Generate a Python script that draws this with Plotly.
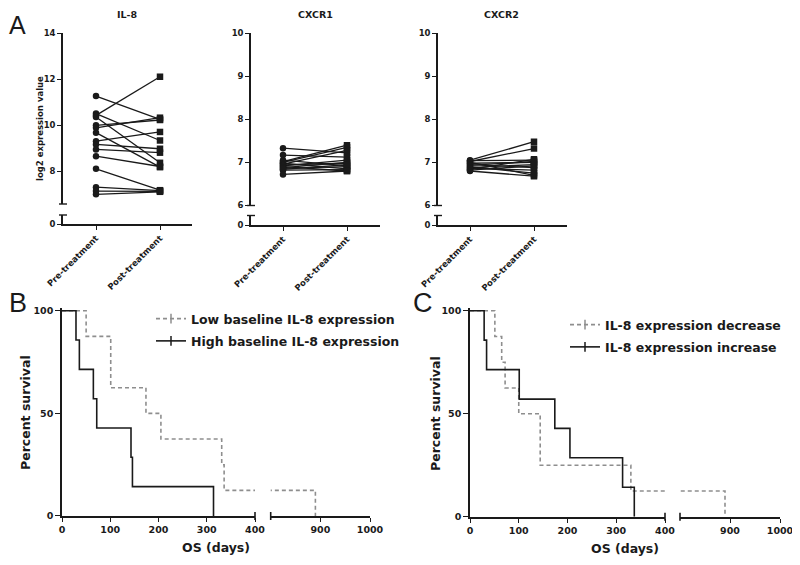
import plotly.graph_objects as go

# The page body keeps the browser's default 8px margin, so the figure is laid out
# in an 784x549 box that starts 8px from the window's top-left corner.
OFF = 8
W, H = 800 - 2 * OFF, 565 - 2 * OFF
def X(px): return (px - OFF) / W
def Y(py): return 1 - (py - OFF) / H

FONT = "DejaVu Sans"
BLACK = "#1a1a1a"
GRAY = "#8e8e8e"

# ---------------- Panel A data ----------------
groups = ["Pre-treatment", "Post-treatment"]
il8_pre  = [11.26, 10.50, 10.42, 10.35, 9.99, 9.88, 9.67, 9.30, 9.16, 8.94, 8.65, 8.10, 7.30, 7.13, 6.99]
il8_post = [10.25, 9.33, 12.10, 8.36, 10.22, 10.32, 8.17, 9.70, 8.97, 8.80, 8.20, 7.17, 7.15, 7.12, 7.10]
cxcr1_pre  = [7.33, 7.17, 7.05, 7.02, 7.00, 6.98, 6.96, 6.94, 6.92, 6.90, 6.88, 6.86, 6.84, 6.82, 6.72]
cxcr1_post = [7.22, 7.12, 6.92, 7.40, 7.35, 6.85, 7.28, 6.98, 7.05, 6.80, 7.00, 6.90, 6.95, 6.83, 6.80]
cxcr2_pre  = [7.05, 7.02, 7.04, 7.00, 6.98, 6.95, 6.93, 6.90, 6.88, 6.86, 6.84, 6.82, 6.80]
cxcr2_post = [7.48, 7.32, 7.05, 6.70, 7.00, 6.88, 7.02, 6.75, 6.95, 6.82, 7.07, 6.92, 6.68]

# ---------------- Panel B/C data (Kaplan-Meier steps) ----------------
b_low_t  = [0, 50, 101, 174, 205, 331, 336, 890]
b_low_s  = [100, 87.5, 62.5, 50, 37.5, 25, 12.5, 0]
b_high_t = [0, 29, 36, 65, 72, 143, 146, 314]
b_high_s = [100, 85.7, 71.4, 57.1, 42.9, 28.6, 14.3, 0]
c_dec_t  = [0, 51, 65, 72, 100, 144, 330, 890]
c_dec_s  = [100, 87.5, 75, 62.5, 50, 25, 12.5, 0]
c_inc_t  = [0, 29, 34, 101, 174, 205, 313, 337]
c_inc_s  = [100, 85.7, 71.4, 57.1, 42.9, 28.6, 14.3, 0]

fig = go.Figure()

def tf(size):
    return dict(family=FONT, size=size, color=BLACK, weight="bold")

# ---------- Panel A traces ----------
panels_a = [
    ("x", "y", "y2", il8_pre, il8_post),
    ("x2", "y3", "y4", cxcr1_pre, cxcr1_post),
    ("x3", "y5", "y6", cxcr2_pre, cxcr2_post),
]
for xa, ya, yl, pre, post in panels_a:
    lx, ly = [], []
    for a, b in zip(pre, post):
        lx += [0, 1, None]
        ly += [a, b, None]
    fig.add_trace(go.Scatter(x=lx, y=ly, mode="lines", xaxis=xa, yaxis=ya,
                             line=dict(color=BLACK, width=1.3), showlegend=False))
    fig.add_trace(go.Scatter(x=[0] * len(pre), y=pre, mode="markers", xaxis=xa, yaxis=ya,
                             marker=dict(symbol="circle", size=6.5, color=BLACK), showlegend=False))
    fig.add_trace(go.Scatter(x=[1] * len(post), y=post, mode="markers", xaxis=xa, yaxis=ya,
                             marker=dict(symbol="square", size=6.5, color=BLACK), showlegend=False))
    # empty trace so the broken lower axis segment (holding the 0 tick) is drawn
    fig.add_trace(go.Scatter(x=[None], y=[None], mode="markers", xaxis=xa, yaxis=yl,
                             showlegend=False, hoverinfo="skip"))

# ---------- Panel B/C traces ----------
km = [
    (b_low_t, b_low_s, GRAY, "dash", "Low baseline IL-8 expression", ("x4", "x5"), "y7", "legend"),
    (b_high_t, b_high_s, BLACK, "solid", "High baseline IL-8 expression", ("x4", "x5"), "y7", "legend"),
    (c_dec_t, c_dec_s, GRAY, "dash", "IL-8 expression decrease", ("x6", "x7"), "y8", "legend2"),
    (c_inc_t, c_inc_s, BLACK, "solid", "IL-8 expression increase", ("x6", "x7"), "y8", "legend2"),
]
for t, s, col, dash, name, xas, ya, leg in km:
    d = "4px,3px" if dash == "dash" else "solid"
    for xa in xas:
        fig.add_trace(go.Scatter(x=t, y=s, mode="lines", line_shape="hv", xaxis=xa, yaxis=ya,
                                 line=dict(color=col, width=1.6, dash=d), showlegend=False))
    fig.add_trace(go.Scatter(x=[None], y=[None], mode="lines+markers", xaxis=xas[0], yaxis=ya,
                             name=name, legend=leg, legendgroup=name,
                             line=dict(color=col, width=1.6, dash=d),
                             marker=dict(symbol="line-ns-open", size=7, color=col,
                                         line=dict(width=1.5, color=col))))

axline = dict(showline=True, linecolor=BLACK, linewidth=1.6, showgrid=False, zeroline=False,
              ticks="outside", tickcolor=BLACK, tickwidth=1.4, ticklen=4)

layout = dict(
    width=W, height=H, margin=dict(l=0, r=0, t=0, b=0, autoexpand=False),
    paper_bgcolor="white", plot_bgcolor="white", showlegend=True,
)

# Panel A axes
a_specs = [
    ("xaxis", "yaxis", "yaxis2", "y2", (63, 192), (96, 160), [6.57, 14], [8, 10, 12, 14], 204, 215, 224),
    ("xaxis2", "yaxis3", "yaxis4", "y4", (251, 380), (283, 347), [6, 10], [6, 7, 8, 9, 10], 205.5, 215.5, 225),
    ("xaxis3", "yaxis5", "yaxis6", "y6", (438, 567), (470, 534), [6, 10], [6, 7, 8, 9, 10], 205.5, 215.5, 225),
]
shapes = []
for xn, yu, yl, ylref, (x0, x1), (c0, c1), yr, yt, ub, lt, zp in a_specs:
    ppu = (c1 - c0)
    xr = [-(c0 - x0) / ppu, 1 + (x1 - c1) / ppu]
    xref = "x" if xn == "xaxis" else "x" + xn[-1]
    layout[xn] = dict(axline, domain=[X(x0), X(x1)], range=xr, anchor=ylref,
                      tickvals=[0, 1], ticktext=groups, tickangle=-45, tickfont=tf(8.5))
    layout[yu] = dict(axline, domain=[Y(ub), Y(33)], range=yr, anchor=xref,
                      tickvals=yt, tickfont=tf(8.5))
    layout[yl] = dict(axline, domain=[Y(zp), Y(lt)], range=[0, 1], anchor=xref,
                      tickvals=[0], tickfont=tf(8.5))
    for py in (ub, lt):
        shapes.append(dict(type="line", xref="paper", yref="paper",
                           x0=X(x0 - 4), x1=X(x0 + 4), y0=Y(py), y1=Y(py),
                           line=dict(color=BLACK, width=1.4)))

# Panels B and C axes
bc_specs = [
    ("xaxis4", "xaxis5", "yaxis7", "x4", "x5", "y7", (62, 255), (270.7, 370), (516, 310.7)),
    ("xaxis6", "xaxis7", "yaxis8", "x6", "x7", "y8", (470, 665), (680, 780), (516.7, 310.7)),
]
for xa1, xa2, yan, xr1, xr2, yr, (a0, a1), (b0, b1), (yb, yt_) in bc_specs:
    ppu_y = (yb - yt_) / 100
    layout[yan] = dict(axline, domain=[Y(yb), Y(yt_ - 1.2 * ppu_y)], range=[0, 101.2], anchor=xr1,
                       tickvals=[0, 50, 100], tickfont=tf(9.5), ticklen=5)
    layout[xa1] = dict(axline, domain=[X(a0), X(a1)], range=[0, 400], anchor=yr,
                       tickvals=[0, 100, 200, 300, 400], tickfont=tf(9.5))
    layout[xa2] = dict(axline, domain=[X(b0), X(b1)], range=[800, 1000], anchor=yr,
                       tickvals=[900, 1000], tickfont=tf(9.5), ticklabeloverflow="allow")
    for px in (a1, b0):
        shapes.append(dict(type="line", xref="paper", yref="paper",
                           x0=X(px), x1=X(px), y0=Y(yb - 4), y1=Y(yb + 4),
                           line=dict(color=BLACK, width=1.6)))

layout["shapes"] = shapes

leg_common = dict(font=tf(12.5), bgcolor="rgba(0,0,0,0)", borderwidth=0,
                  xanchor="left", yanchor="top", itemwidth=30, tracegroupgap=3,
                  itemclick=False, itemdoubleclick=False)
layout["legend"] = dict(leg_common, x=X(151), y=Y(304))
layout["legend2"] = dict(leg_common, x=X(565), y=Y(310))

ann = []
def A(text, px, py, size, angle=0, xanchor="center", bold=True, family=FONT):
    f = dict(family=family, size=size, color=BLACK)
    if bold:
        f["weight"] = "bold"
    ann.append(dict(text=text, x=X(px), y=Y(py), xref="paper", yref="paper", showarrow=False,
                    xanchor=xanchor, yanchor="middle", textangle=angle, font=f))

A("A", 7, 25, 25, xanchor="left", bold=False, family="Liberation Sans")
A("B", 7, 303, 27, xanchor="left", bold=False, family="Liberation Sans")
A("C", 411, 303, 27, xanchor="left", bold=False, family="Liberation Sans")
A("IL-8", 127.5, 14, 9.5)
A("CXCR1", 315, 14, 9.5)
A("CXCR2", 502, 14, 9.5)
A("log2 expression value", 40, 128, 8.5, angle=-90)
A("Percent survival", 25, 413, 12.5, angle=-90)
A("Percent survival", 435, 413, 12.5, angle=-90)
A("OS (days)", 216, 547, 12.5)
A("OS (days)", 625, 548, 12.5)
layout["annotations"] = ann

fig.update_layout(**layout)
fig.write_html("out.html")
